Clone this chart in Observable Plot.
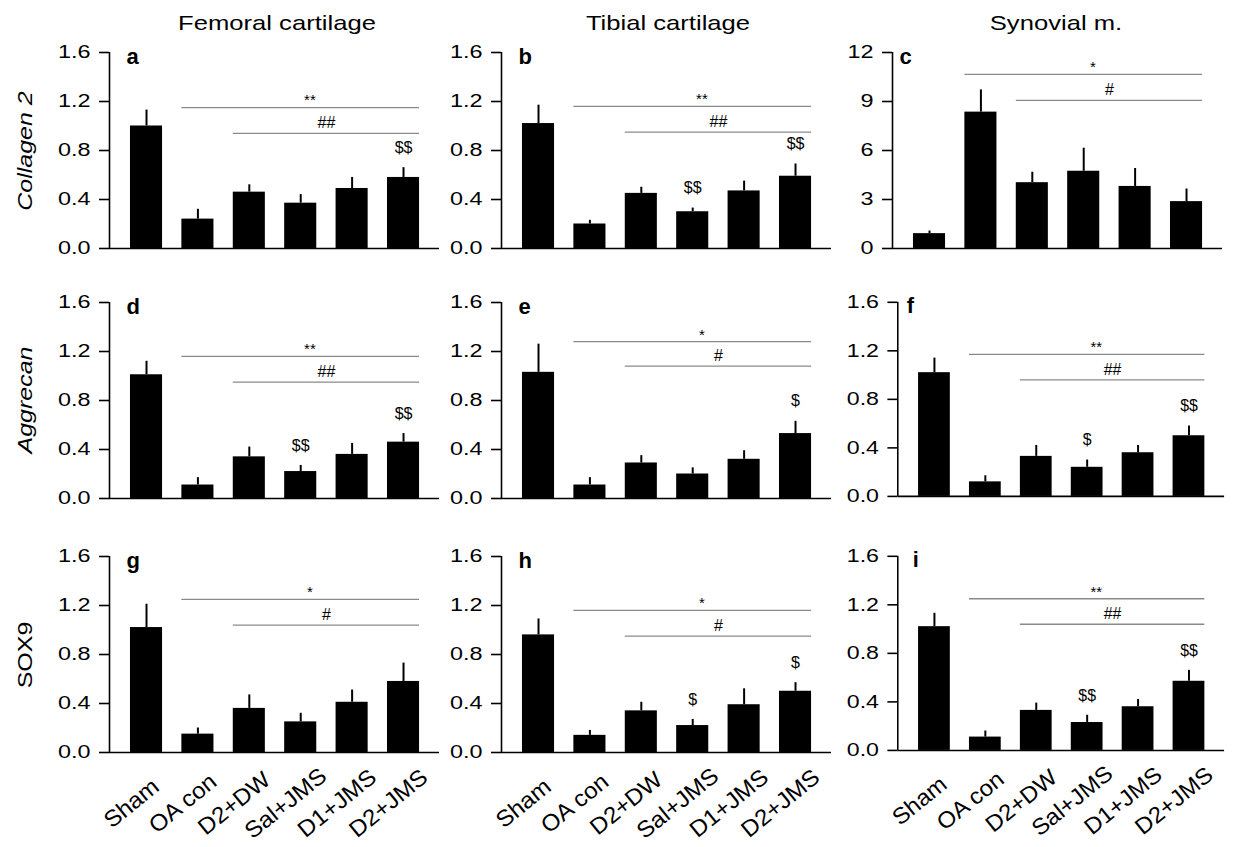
<!DOCTYPE html>
<html>
<head>
<meta charset="utf-8">
<script src="https://cdn.jsdelivr.net/npm/d3@7"></script>
<script src="https://cdn.jsdelivr.net/npm/@observablehq/plot@0.6"></script>
<style>
  html, body { margin: 0; padding: 0; background: #fff; }
  body { font-family: "Liberation Sans", Arial, sans-serif; color: #000; }
  #fig { position: relative; width: 1236px; height: 847px; overflow: hidden; background: #fff; }
  .panel { position: absolute; }
  .coltitle { position: absolute; font-size: 21px; line-height: 1; white-space: nowrap; transform: translateX(-50%) scaleX(1.22); }
  .rowtitle { position: absolute; font-size: 20px; line-height: 1; white-space: nowrap; transform: translate(-50%, -50%) rotate(-90deg) scaleX(1.25); }
</style>
</head>
<body>
<div id="fig"></div>
<script>
// ---------------- data ----------------
const groups  = ["Sham", "OA con", "D2+DW", "Sal+JMS", "D1+JMS", "D2+JMS"];
const tissues = ["Femoral cartilage", "Tibial cartilage", "Synovial m."];
const genes   = ["Collagen 2", "Aggrecan", "SOX9"];
const letters = ["a", "b", "c", "d", "e", "f", "g", "h", "i"];

// relative mRNA expression (mean) and SEM per panel
const meanA = [1.00, 0.24, 0.46, 0.37, 0.49, 0.58];
const semA  = [0.13, 0.08, 0.06, 0.07, 0.09, 0.08];
const meanB = [1.02, 0.20, 0.45, 0.30, 0.47, 0.59];
const semB  = [0.15, 0.03, 0.05, 0.03, 0.08, 0.10];
const meanC = [0.91, 8.35, 4.03, 4.73, 3.80, 2.87];
const semC  = [0.16, 1.36, 0.64, 1.41, 1.10, 0.77];
const meanD = [1.01, 0.11, 0.34, 0.22, 0.36, 0.46];
const semD  = [0.11, 0.06, 0.08, 0.05, 0.09, 0.07];
const meanE = [1.03, 0.11, 0.29, 0.20, 0.32, 0.53];
const semE  = [0.23, 0.06, 0.06, 0.05, 0.07, 0.10];
const meanF = [1.02, 0.12, 0.33, 0.24, 0.36, 0.50];
const semF  = [0.12, 0.05, 0.09, 0.06, 0.06, 0.08];
const meanG = [1.02, 0.15, 0.36, 0.25, 0.41, 0.58];
const semG  = [0.19, 0.05, 0.11, 0.07, 0.10, 0.15];
const meanH = [0.96, 0.14, 0.34, 0.22, 0.39, 0.50];
const semH  = [0.13, 0.04, 0.07, 0.05, 0.13, 0.07];
const meanI = [1.02, 0.11, 0.33, 0.23, 0.36, 0.57];
const semI  = [0.11, 0.05, 0.06, 0.06, 0.06, 0.09];

// y-axis ticks
const ticksRel = [0, 0.4, 0.8, 1.2, 1.6];
const ticksSyn = [0, 3, 6, 9, 12];

// significance brackets: OA con..D2+JMS (vs sham) and D2+DW..D2+JMS
const starLevel = [1.15, 1.16, 10.66, 1.16, 1.28, 1.17, 1.25, 1.16, 1.25];
const starText  = ["**", "**", "*", "**", "*", "**", "*", "*", "**"];
const hashLevel = [0.94, 0.95, 9.07, 0.95, 1.08, 0.96, 1.04, 0.95, 1.04];
const hashText  = ["##", "##", "#", "##", "#", "##", "#", "#", "##"];

// $ marks above individual bars
const dollarPanel = ["a", "b", "b", "d", "d", "e", "f", "f", "h", "h", "i", "i"];
const dollarGroup = ["D2+JMS", "Sal+JMS", "D2+JMS", "Sal+JMS", "D2+JMS", "D2+JMS",
                     "Sal+JMS", "D2+JMS", "Sal+JMS", "D2+JMS", "Sal+JMS", "D2+JMS"];
const dollarText  = ["$$", "$$", "$$", "$$", "$$", "$", "$", "$$", "$", "$", "$$", "$$"];

// ---------------- layout ----------------
const means = [meanA, meanB, meanC, meanD, meanE, meanF, meanG, meanH, meanI];
const sems  = [semA, semB, semC, semD, semE, semF, semG, semH, semI];
const axisXpos = [108.5, 500.7, 892, 108.5, 500.7, 898, 108.5, 500.7, 898];
const rowTop = [52, 301.5, 556];
const letterDx = [17, 17, 7, 17, 17, 9, 17, 17, 15];
const innerW = 330, innerH = 196;
const xDomain = [-0.72, 5.70];
const half = 0.312;
const FONT = '"Liberation Sans", Arial, sans-serif';

const fig = document.getElementById("fig");

// widen glyphs horizontally (in each text's own frame) to match the reference lettering
function stretch(svg, label, sx) {
  svg.querySelectorAll(`g[aria-label="${label}"] text`).forEach(t => {
    const xs = t.getAttribute("x");
    const x = xs && /^-?[\d.]+$/.test(xs) ? +xs : 0;
    const prev = t.getAttribute("transform") || "";
    t.setAttribute("transform", `${prev} translate(${x},0) scale(${sx},1) translate(${-x},0)`.trim());
  });
}

function makePanel(k) {
  const row = Math.floor(k / 3);
  const mean = means[k], sem = sems[k];
  const rows = groups.map((g, i) => ({g, i, mean: mean[i], top: mean[i] + sem[i]}));
  const syn = k === 2;
  const yMax = syn ? 12 : 1.6;
  const yTicks = syn ? ticksSyn : ticksRel;
  const fmt = syn ? d3.format("d") : d3.format(".1f");
  const bottom = row === 2;
  const mL = 75, mR = 12, mT = 20, mB = bottom ? 95 : 14;
  const dollars = dollarPanel
    .map((p, j) => ({p, g: dollarGroup[j], t: dollarText[j]}))
    .filter(d => d.p === letters[k])
    .map(d => ({...d, i: groups.indexOf(d.g), top: rows[groups.indexOf(d.g)].top}));

  const marks = [
    Plot.rectY(rows, {x1: d => d.i - half, x2: d => d.i + half, y1: 0, y2: "mean", fill: "#000"}),
    Plot.ruleX(rows, {x: "i", y1: "mean", y2: "top", stroke: "#000", strokeWidth: 2}),
    Plot.ruleY([0], {stroke: "#000", strokeWidth: 1.6}),
    Plot.ruleX([xDomain[0]], {y1: 0, y2: yMax, stroke: "#000", strokeWidth: 1.6}),
    Plot.axisY({ticks: yTicks, tickFormat: fmt, tickSize: 10, tickPadding: 9, fontSize: 18, label: null, strokeWidth: 1.6}),
    Plot.ruleY([starLevel[k]], {y: d => d, x1: () => 1 - half, x2: () => 5 + half, stroke: "#8a8a8a", strokeWidth: 1.3}),
    Plot.ruleY([hashLevel[k]], {y: d => d, x1: () => 2 - half, x2: () => 5 + half, stroke: "#8a8a8a", strokeWidth: 1.3}),
    Plot.text([starText[k]], {x: () => 3.18, y: () => starLevel[k], text: d => d, dy: -7, fontSize: 15, ariaLabel: "sig"}),
    Plot.text([hashText[k]], {x: () => 3.5, y: () => hashLevel[k], text: d => d, dy: -10, fontSize: 16, ariaLabel: "sig"}),
    Plot.text(dollars, {x: "i", y: "top", text: "t", dy: -20, fontSize: 16, ariaLabel: "sig"}),
    Plot.text([letters[k]], {frameAnchor: "top-left", text: d => d, dx: letterDx[k], dy: 4, lineAnchor: "middle",
      fontWeight: "bold", fontSize: 22, ariaLabel: "panel letter"})
  ];
  if (bottom) {
    marks.push(Plot.axisX({ticks: [0, 1, 2, 3, 4, 5], tickFormat: i => groups[i], tickRotate: -39,
      tickSize: 0, tickPadding: 51, dx: -15, textAnchor: "middle", lineAnchor: "middle", fontSize: 23, label: null}));
  }

  const svg = Plot.plot({
    width: mL + innerW + mR,
    height: mT + innerH + mB,
    marginLeft: mL, marginRight: mR, marginTop: mT, marginBottom: mB,
    x: {type: "linear", domain: xDomain, ...(bottom ? {} : {axis: null})},
    y: {domain: [0, yMax]},
    style: {fontFamily: FONT, fontSize: "18px", color: "#000", background: "transparent", overflow: "visible"},
    marks
  });
  stretch(svg, "y-axis tick label", 1.3);
  stretch(svg, "x-axis tick label", 1.05);
  stretch(svg, "sig", 1.15);
  stretch(svg, "panel letter", 1.2);

  const wrap = document.createElement("div");
  wrap.className = "panel";
  wrap.style.left = (axisXpos[k] - mL) + "px";
  wrap.style.top = (rowTop[row] - mT) + "px";
  wrap.appendChild(svg);
  fig.appendChild(wrap);
}

for (let k = 0; k < 9; k++) makePanel(k);

const titleX = [277, 668, 1056];
tissues.forEach((t, c) => {
  const d = document.createElement("div");
  d.className = "coltitle";
  d.textContent = t;
  d.style.left = titleX[c] + "px";
  d.style.top = "12px";
  fig.appendChild(d);
});

const geneY = [151, 400, 655];
genes.forEach((g, r) => {
  const d = document.createElement("div");
  d.className = "rowtitle";
  d.textContent = g;
  d.style.left = "25px";
  d.style.top = geneY[r] + "px";
  if (g !== "SOX9") d.style.fontStyle = "italic";
  fig.appendChild(d);
});
</script>
</body>
</html>
